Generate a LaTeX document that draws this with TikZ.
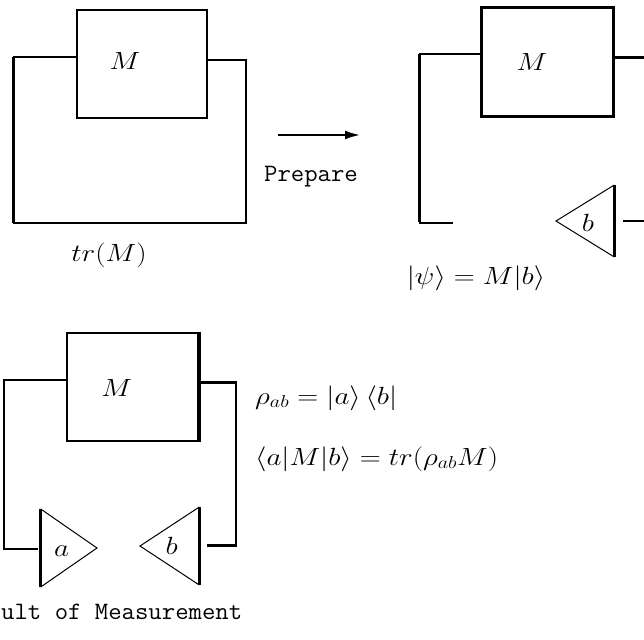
\documentclass[tikz,border=0pt]{standalone}
\usepackage{graphicx}
\usetikzlibrary{arrows.meta}
\newcommand{\wm}[1]{\scalebox{1.17}[1]{#1}}
\newcommand{\wt}[1]{\scalebox{1.04}[1]{\ttfamily #1}}
\begin{document}
\begin{tikzpicture}[x=1pt,y=-1pt,
  lbl/.style={inner sep=0pt, font=\fontsize{25}{30}\selectfont, anchor=base},
  lblw/.style={lbl, anchor=base west},
  wire/.style={line width=2pt},
  thickwire/.style={line width=3pt},
  tside/.style={line width=1pt},
  tbase/.style={line width=2.6pt},
  mbox/.style={draw, line width=2pt, inner sep=0pt},
]
\useasboundingbox (0,0) rectangle (644,639);

% ---- panel 1: tr(M)
\node[mbox, minimum width=130pt, minimum height=108.3pt] (box1) at (141.7,64.15) {};
\node[lbl] (m1) at (125,70) {\wm{$M$}};
\coordinate (p1a) at (13.3,57.3);
\coordinate (p1b) at (13.3,223.3);
\coordinate (p1c) at (246,223.3);
\coordinate (p1d) at (246,60);
\draw[wire] (box1.west |- p1a) -- (p1a);
\draw[thickwire] (p1a) -- (p1b);
\draw[wire] (p1b) -- (p1c) -- (p1d) -- (box1.east |- p1d);
\node[lbl] (tr) at (109,261) {\wm{$tr(M)$}};

% ---- arrow
\coordinate (ar0) at (278.3,135);
\coordinate (ar1) at (360,135);
\draw[wire,-{Latex[length=15pt,width=9pt]}] (ar0) -- (ar1);
\node[lbl] (prep) at (311,181) {\wt{Prepare}};

% ---- panel 2: prepare
\node[mbox, line width=2.5pt, minimum width=131.6pt, minimum height=109.4pt] (box2) at (547.5,62) {};
\node[lbl] (m2) at (532,71) {\wm{$M$}};
\coordinate (p2a) at (419.3,54.3);
\coordinate (p2b) at (419.3,221.7);
\coordinate (p2c) at (453.3,223.3);
\draw[wire] (box2.west |- p2a) -- (p2a);
\draw[thickwire] (p2a) -- (p2b);
\draw[wire] (p2b |- p2c) -- (p2c);
\coordinate (p2r) at (644,57.3);
\draw[thickwire] (box2.east |- p2r) -- (p2r);
\coordinate (t2tip) at (556,221);
\coordinate (t2top) at (614.3,185);
\coordinate (t2bot) at (614.3,257);
\draw[tside] (t2top) -- (t2tip) -- (t2bot);
\draw[tbase] (t2top) -- (t2bot);
\node[lbl] (b2) at (588,231) {\wm{$b$}};
\coordinate (p2v) at (622.7,220.7);
\coordinate (p2w) at (644,220.7);
\draw[wire] (p2v) -- (p2w);
\node[lbl] (psi) at (476,284) {\wm{$|\psi\rangle = M|b\rangle$}};

% ---- panel 3: measurement
\node[mbox, minimum width=131.6pt, minimum height=108pt] (box3) at (132.5,387) {};
\draw[thickwire] (box3.north east) -- (box3.south east);
\node[lbl] (m3) at (116.7,396) {\wm{$M$}};
\coordinate (p3a) at (4,380);
\coordinate (p3b) at (4,549);
\coordinate (p3c) at (38.3,549);
\draw[wire] (box3.west |- p3a) -- (p3a) -- (p3b) -- (p3c);
\coordinate (tatop) at (40.7,509);
\coordinate (tabot) at (40.7,587);
\coordinate (tatip) at (97,548);
\draw[tside] (tatop) -- (tatip) -- (tabot);
\draw[tbase] (tatop) -- (tabot);
\node[lbl] (a3) at (61.7,556) {\wm{$a$}};
\coordinate (tbtop) at (199.3,507);
\coordinate (tbbot) at (199.3,585);
\coordinate (tbtip) at (140,546);
\draw[tside] (tbtop) -- (tbtip) -- (tbbot);
\draw[tbase] (tbtop) -- (tbbot);
\node[lbl] (b3) at (171.7,554) {\wm{$b$}};
\coordinate (p3d) at (236,382.3);
\coordinate (p3e) at (236,545.7);
\coordinate (p3f) at (206.7,545.7);
\draw[line width=2.5pt] (box3.east |- p3d) -- (p3d) -- (p3e) -- (p3f);
\node[lblw] (rho) at (255,404) {\wm{$\rho_{ab} = |a\rangle\,\langle b|$}};
\node[lblw] (amb) at (255,465) {\wm{$\langle a|M|b\rangle = tr(\rho_{ab}M)$}};
\node[lblw] (res) at (1,619) {\wt{ult of Measurement}};
\end{tikzpicture}
\end{document}
